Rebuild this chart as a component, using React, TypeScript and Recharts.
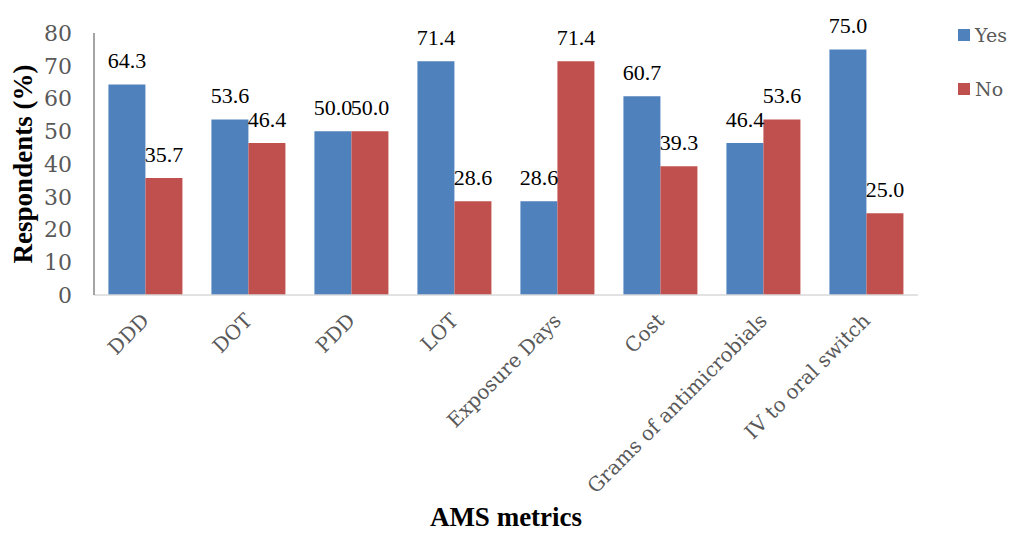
import React from "react";
import { BarChart, Bar, XAxis, YAxis, LabelList } from "recharts";

const metrics = [
  "DDD",
  "DOT",
  "PDD",
  "LOT",
  "Exposure Days",
  "Cost",
  "Grams of antimicrobials",
  "IV to oral switch",
];
const yesValues = [64.3, 53.6, 50.0, 71.4, 28.6, 60.7, 46.4, 75.0];
const noValues = [35.7, 46.4, 50.0, 28.6, 71.4, 39.3, 53.6, 25.0];
const yTicks = [0, 10, 20, 30, 40, 50, 60, 70, 80];

const BLUE = "#4F81BD";
const RED = "#C0504D";
const AXIS_TEXT = "#595959";
const TIMES = "Liberation Serif";
const WIDE_SERIF = "DejaVu Serif";

const data = metrics.map((m, i) => ({ metric: m, Yes: yesValues[i], No: noValues[i] }));

function MetricTick(props: any) {
  const { x, y, payload } = props;
  return (
    <g transform={`translate(${x + 1},${y + 15})`}>
      <text
        transform="rotate(-45)"
        textAnchor="end"
        dominantBaseline="middle"
        fill={AXIS_TEXT}
        fontSize={20}
        fontFamily={WIDE_SERIF}
      >
        {payload.value}
      </text>
    </g>
  );
}

// value printed above each bar
function ValueLabel(props: any) {
  const { x, y, width, value } = props;
  return (
    <text
      x={Number(x) + Number(width) / 2}
      y={Number(y) - 16}
      textAnchor="middle"
      fontFamily={TIMES}
      fontSize={22}
      fill="#000"
    >
      {Number(value).toFixed(1)}
    </text>
  );
}

function SideLegend() {
  const items = [
    { name: "Yes", color: BLUE },
    { name: "No", color: RED },
  ];
  return (
    <div style={{ position: "absolute", left: 958, top: 24 }}>
      {items.map((it) => (
        <div key={it.name} style={{ display: "flex", alignItems: "center", height: 22, marginBottom: 32 }}>
          <span style={{ width: 12, height: 12, background: it.color, display: "inline-block", marginRight: 5 }} />
          <span style={{ fontFamily: WIDE_SERIF, fontSize: 19, color: AXIS_TEXT }}>{it.name}</span>
        </div>
      ))}
    </div>
  );
}

export default function App() {
  return (
    <div style={{ position: "absolute", left: 0, top: 0, width: 1012, height: 534, background: "#fff" }}>
      <BarChart
        width={1012}
        height={534}
        data={data}
        margin={{ top: 33, right: 94, bottom: 4, left: 4 }}
        barCategoryGap="14%"
        barGap={0}
      >
        <XAxis
          dataKey="metric"
          interval={0}
          height={235}
          tick={<MetricTick />}
          tickLine={false}
          axisLine={{ stroke: "#D9D9D9", strokeWidth: 1.5 }}
          label={{
            value: "AMS metrics",
            position: "insideBottom",
            offset: 4,
            style: { fontFamily: TIMES, fontSize: 27, fontWeight: "bold", fill: "#000" },
          }}
        />
        <YAxis
          width={90}
          domain={[0, 80]}
          ticks={yTicks}
          interval={0}
          tickSize={0}
          tickMargin={22}
          tickLine={false}
          axisLine={{ stroke: "#868686", strokeWidth: 1.5 }}
          tick={{ fill: AXIS_TEXT, fontSize: 22, fontFamily: WIDE_SERIF }}
          label={{
            value: "Respondents (%)",
            angle: -90,
            position: "insideLeft",
            offset: 18,
            style: { textAnchor: "middle", fontFamily: TIMES, fontSize: 27, fontWeight: "bold", fill: "#000" },
          }}
        />
        <Bar dataKey="Yes" fill={BLUE} isAnimationActive={false}>
          <LabelList dataKey="Yes" content={<ValueLabel />} />
        </Bar>
        <Bar dataKey="No" fill={RED} isAnimationActive={false}>
          <LabelList dataKey="No" content={<ValueLabel />} />
        </Bar>
      </BarChart>
      <SideLegend />
    </div>
  );
}
